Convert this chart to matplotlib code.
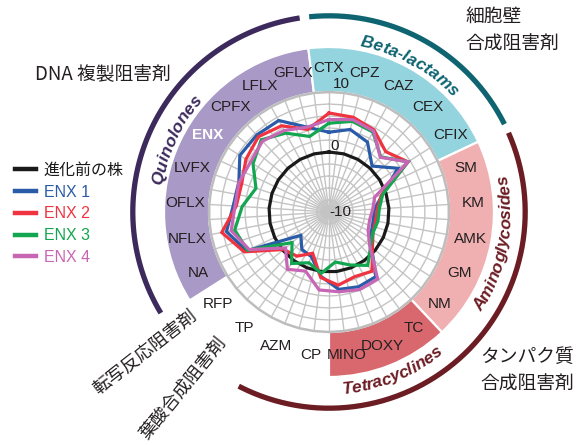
import numpy as np
import matplotlib
matplotlib.use("Agg")
import matplotlib.pyplot as plt
from matplotlib.font_manager import FontProperties

# ---------------- data ----------------
categories = ["CTX", "CPZ", "CAZ", "CEX", "CFIX", "SM", "KM", "AMK", "GM", "NM",
              "TC", "DOXY", "MINO", "CP", "AZM", "TP", "RFP", "NA", "NFLX", "OFLX",
              "LVFX", "ENX", "CPFX", "LFLX", "GFLX"]
series_names = ["進化前の株", "ENX 1", "ENX 2", "ENX 3", "ENX 4"]
parent = [0, 0, 0, 0, 0, 0, 0, 0, 0, 0, 0, 0, 0, 0, 0, 0, 0, 0, 0, 0, 0, 0, 0, 0, 0]
enx1 = [3.3, 4.2, 3.3, 0.5, 3.6, -0.6, -2.4, -2.5, -2.2, -0.8, 3.3, 3.4, 3.0, 0.8, -2.0,
        -2.3, -3.9, 5.2, 7.4, 6.0, 5.8, 7.6, 7.6, 7.4, 4.6]
enx2 = [6.5, 6.3, 5.6, 3.8, 5.6, -0.8, -1.9, -2.1, -1.9, -0.6, 2.2, 1.6, 2.3, 1.0, -2.6,
        -0.9, -0.2, 5.6, 8.2, 5.5, 5.3, 6.4, 7.2, 6.4, 4.2]
enx3 = [4.8, 5.6, 5.2, 2.6, 5.6, -0.6, -1.6, -1.7, -1.9, -1.0, 1.0, -0.5, -1.6, 0.3, -0.9,
        0.6, -2.0, 5.0, 6.0, 4.5, 2.8, 5.0, 6.5, 5.0, 3.0]
enx4 = [5.4, 5.9, 5.4, 2.5, 5.6, -2.0, -2.7, -3.1, -2.8, -1.2, 3.8, 3.9, 3.4, 3.1, 0.6,
        1.8, -0.6, 4.7, 6.6, 5.7, 5.8, 5.5, 6.2, 5.5, 4.6]
radial_ticks = [-10, 0, 10]
radial_tick_labels = ["-10", "0", "10"]
class_names = ["Quinolones", "Beta-lactams", "Aminoglycosides", "Tetracyclines"]
class_first = ["NA", "CTX", "SM", "TC"]
class_last = ["GFLX", "CFIX", "NM", "MINO"]
group_names = ["DNA 複製阻害剤", "細胞壁\n合成阻害剤", "タンパク質\n合成阻害剤",
               "転写反応阻害剤", "葉酸合成阻害剤"]
arc_first = ["NA", "CTX", "SM"]
arc_last = ["GFLX", "CFIX", "AZM"]

# ---------------- style ----------------
W, H = 579, 445
CX, CY = 329, 212
RPX = 204
RMIN, RMAX = -10, 24
LAT = ["Liberation Sans", "DejaVu Sans"]
JP = ["Noto Sans CJK JP", "DejaVu Sans"]
TXT = "#231f20"
series_colors = ["#1a1a1a", "#2a5ba8", "#ef3340", "#13a650", "#c766b4"]
class_colors = ["#a999c6", "#94d4de", "#f0b0b1", "#d9676e"]
class_text_colors = ["#3d2a5c", "#0e6470", "#6b1d23", "#6b1d23"]
arc_colors = ["#3d2a5c", "#0e6470", "#6b1d23"]

n = len(categories)
step = 2 * np.pi / n
theta = np.arange(n) * step
idx = {c: i for i, c in enumerate(categories)}

fig = plt.figure(figsize=(W / 100, H / 100), dpi=100)
fig.patch.set_facecolor("white")
ax = fig.add_axes([(CX - RPX) / W, (H - CY - RPX) / H, 2 * RPX / W, 2 * RPX / H],
                  projection="polar")
ax.set_theta_zero_location("N")
ax.set_theta_direction(-1)
ax.set_ylim(RMIN, RMAX)
ax.axis("off")
pxu = RPX / (RMAX - RMIN)  # pixels per unit

# coloured class wedges
for name, a, b, col in zip(class_names, class_first, class_last, class_colors):
    i0, i1 = idx[a], idx[b]
    if i1 < i0:
        i1 += n
    start = (i0 - 0.5) * step
    width = (i1 - i0 + 1) * step
    ax.bar(start + width / 2, 7.5, width=width, bottom=10, color=col,
           edgecolor="white", linewidth=1.6, zorder=1)

# outer arcs
pad = np.deg2rad(1.4)
for a, b, col in zip(arc_first, arc_last, arc_colors):
    i0, i1 = idx[a], idx[b]
    if i1 < i0:
        i1 += n
    t = np.linspace((i0 - 0.5) * step + pad, (i1 + 0.5) * step - pad, 200)
    ax.plot(t, np.full_like(t, 22.7), color=col, lw=3.8, solid_capstyle="butt", zorder=2)

# grid
nsp = 2 * n
sp = np.arange(nsp + 1) * 2 * np.pi / nsp
for th in sp[:-1]:
    ax.plot([th, th], [-10, 10], color="#c4c4c4", lw=1.0, zorder=2)
for v in range(-8, 10, 2):
    ax.plot(sp, np.full_like(sp, v), color="#c4c4c4", lw=1.0, zorder=2)
ax.plot(sp, np.full_like(sp, 10), color="#bdbdbd", lw=1.8, zorder=2)

# data lines
all_series = [parent, enx1, enx2, enx3, enx4]
handles = []
tc = np.append(theta, theta[0])
for k, (vals, col) in enumerate(zip(all_series, series_colors)):
    vv = np.append(vals, vals[0])
    h, = ax.plot(tc, vv, color=col, lw=2.3, zorder=5 + k, solid_joinstyle="miter")
    handles.append(h)

# category labels
for th, c in zip(theta, categories):
    if c == "ENX":
        ax.text(th, 14, c, ha="center", va="center", fontsize=11, color="white",
                fontweight="bold", family=LAT, zorder=20)
    else:
        ax.text(th, 14, c, ha="center", va="center", fontsize=11, color=TXT,
                family=LAT, zorder=20)

# radial tick labels
ax.text(0, radial_ticks[0], radial_tick_labels[0], ha="left", va="center",
        fontsize=11, color=TXT, family=LAT, zorder=20)
ax.text(np.deg2rad(4.5), radial_ticks[1] + 1.0, radial_tick_labels[1], ha="center",
        va="center", fontsize=11, color=TXT, family=LAT, zorder=20)
ax.text(np.deg2rad(5.4), radial_ticks[2] + 1.4, radial_tick_labels[2], ha="center",
        va="center", fontsize=11, color=TXT, family=LAT, zorder=20)

# curved class texts
renderer = fig.canvas.get_renderer()
CFS = 12.5


def text_width(s, fs):
    t = fig.text(0, 0, s, fontsize=fs, fontweight="bold", fontstyle="italic", family=LAT)
    w = t.get_window_extent(renderer).width
    t.remove()
    return w


def curved(s, center, r, cw, fs, color):
    rpx = (r - RMIN) * pxu
    cum = [0.0] + [text_width(s[:i + 1], fs) for i in range(len(s))]
    L = cum[-1]
    for i, ch in enumerate(s):
        c = (cum[i] + cum[i + 1]) / 2
        off = (c - L / 2) / rpx
        if cw:
            th = center + off
            rot = -np.rad2deg(th)
        else:
            th = center - off
            rot = 180 - np.rad2deg(th)
        ax.text(th, r, ch, rotation=rot, rotation_mode="anchor", ha="center",
                va="baseline", fontsize=fs, fontweight="bold", fontstyle="italic",
                color=color, family=LAT, zorder=20)


for name, a, b, col in zip(class_names, class_first, class_last, class_text_colors):
    i0, i1 = idx[a], idx[b]
    if i1 < i0:
        i1 += n
    cen = ((i0 - 0.5) * step + (i1 + 0.5) * step) / 2
    cdeg = np.rad2deg(cen) % 360
    top = cdeg > 270 or cdeg < 90
    if top:
        curved(name, cen, 168.5 / pxu + RMIN, True, CFS, col)
    else:
        curved(name, cen, 182 / pxu + RMIN, False, CFS, col)


# group labels (Japanese)
def ftext(x, y, s, fs=13.5, **kw):
    fig.text(x / W, 1 - y / H, s, fontsize=fs, color=TXT, family=JP, **kw)


ftext(35, 75, group_names[0], ha="left", va="center")
l1, l2 = group_names[1].split("\n")
ftext(465, 16, l1, ha="left", va="center")
ftext(465, 44, l2, ha="left", va="center")
l1, l2 = group_names[2].split("\n")
ftext(480, 356, l1, ha="left", va="center")
ftext(480, 384, l2, ha="left", va="center")
ftext(145, 352, group_names[3], fs=13, ha="center", va="center", rotation=38,
      rotation_mode="anchor")
ftext(183, 388, group_names[4], fs=13, ha="center", va="center", rotation=51,
      rotation_mode="anchor")

# legend
leg = fig.legend(handles, series_names, loc="upper left",
                 bbox_to_anchor=(15 / W, 1 - 163 / H), frameon=False,
                 borderpad=0, borderaxespad=0, handlelength=1.3, handletextpad=0.5,
                 labelspacing=0.42, prop=FontProperties(family=LAT + JP, size=11.5))
for t, c in zip(leg.get_texts(), series_colors):
    t.set_color(c)
for l in leg.get_lines():
    l.set_linewidth(3.2)

fig.savefig("out.png", dpi=100, facecolor="white")
